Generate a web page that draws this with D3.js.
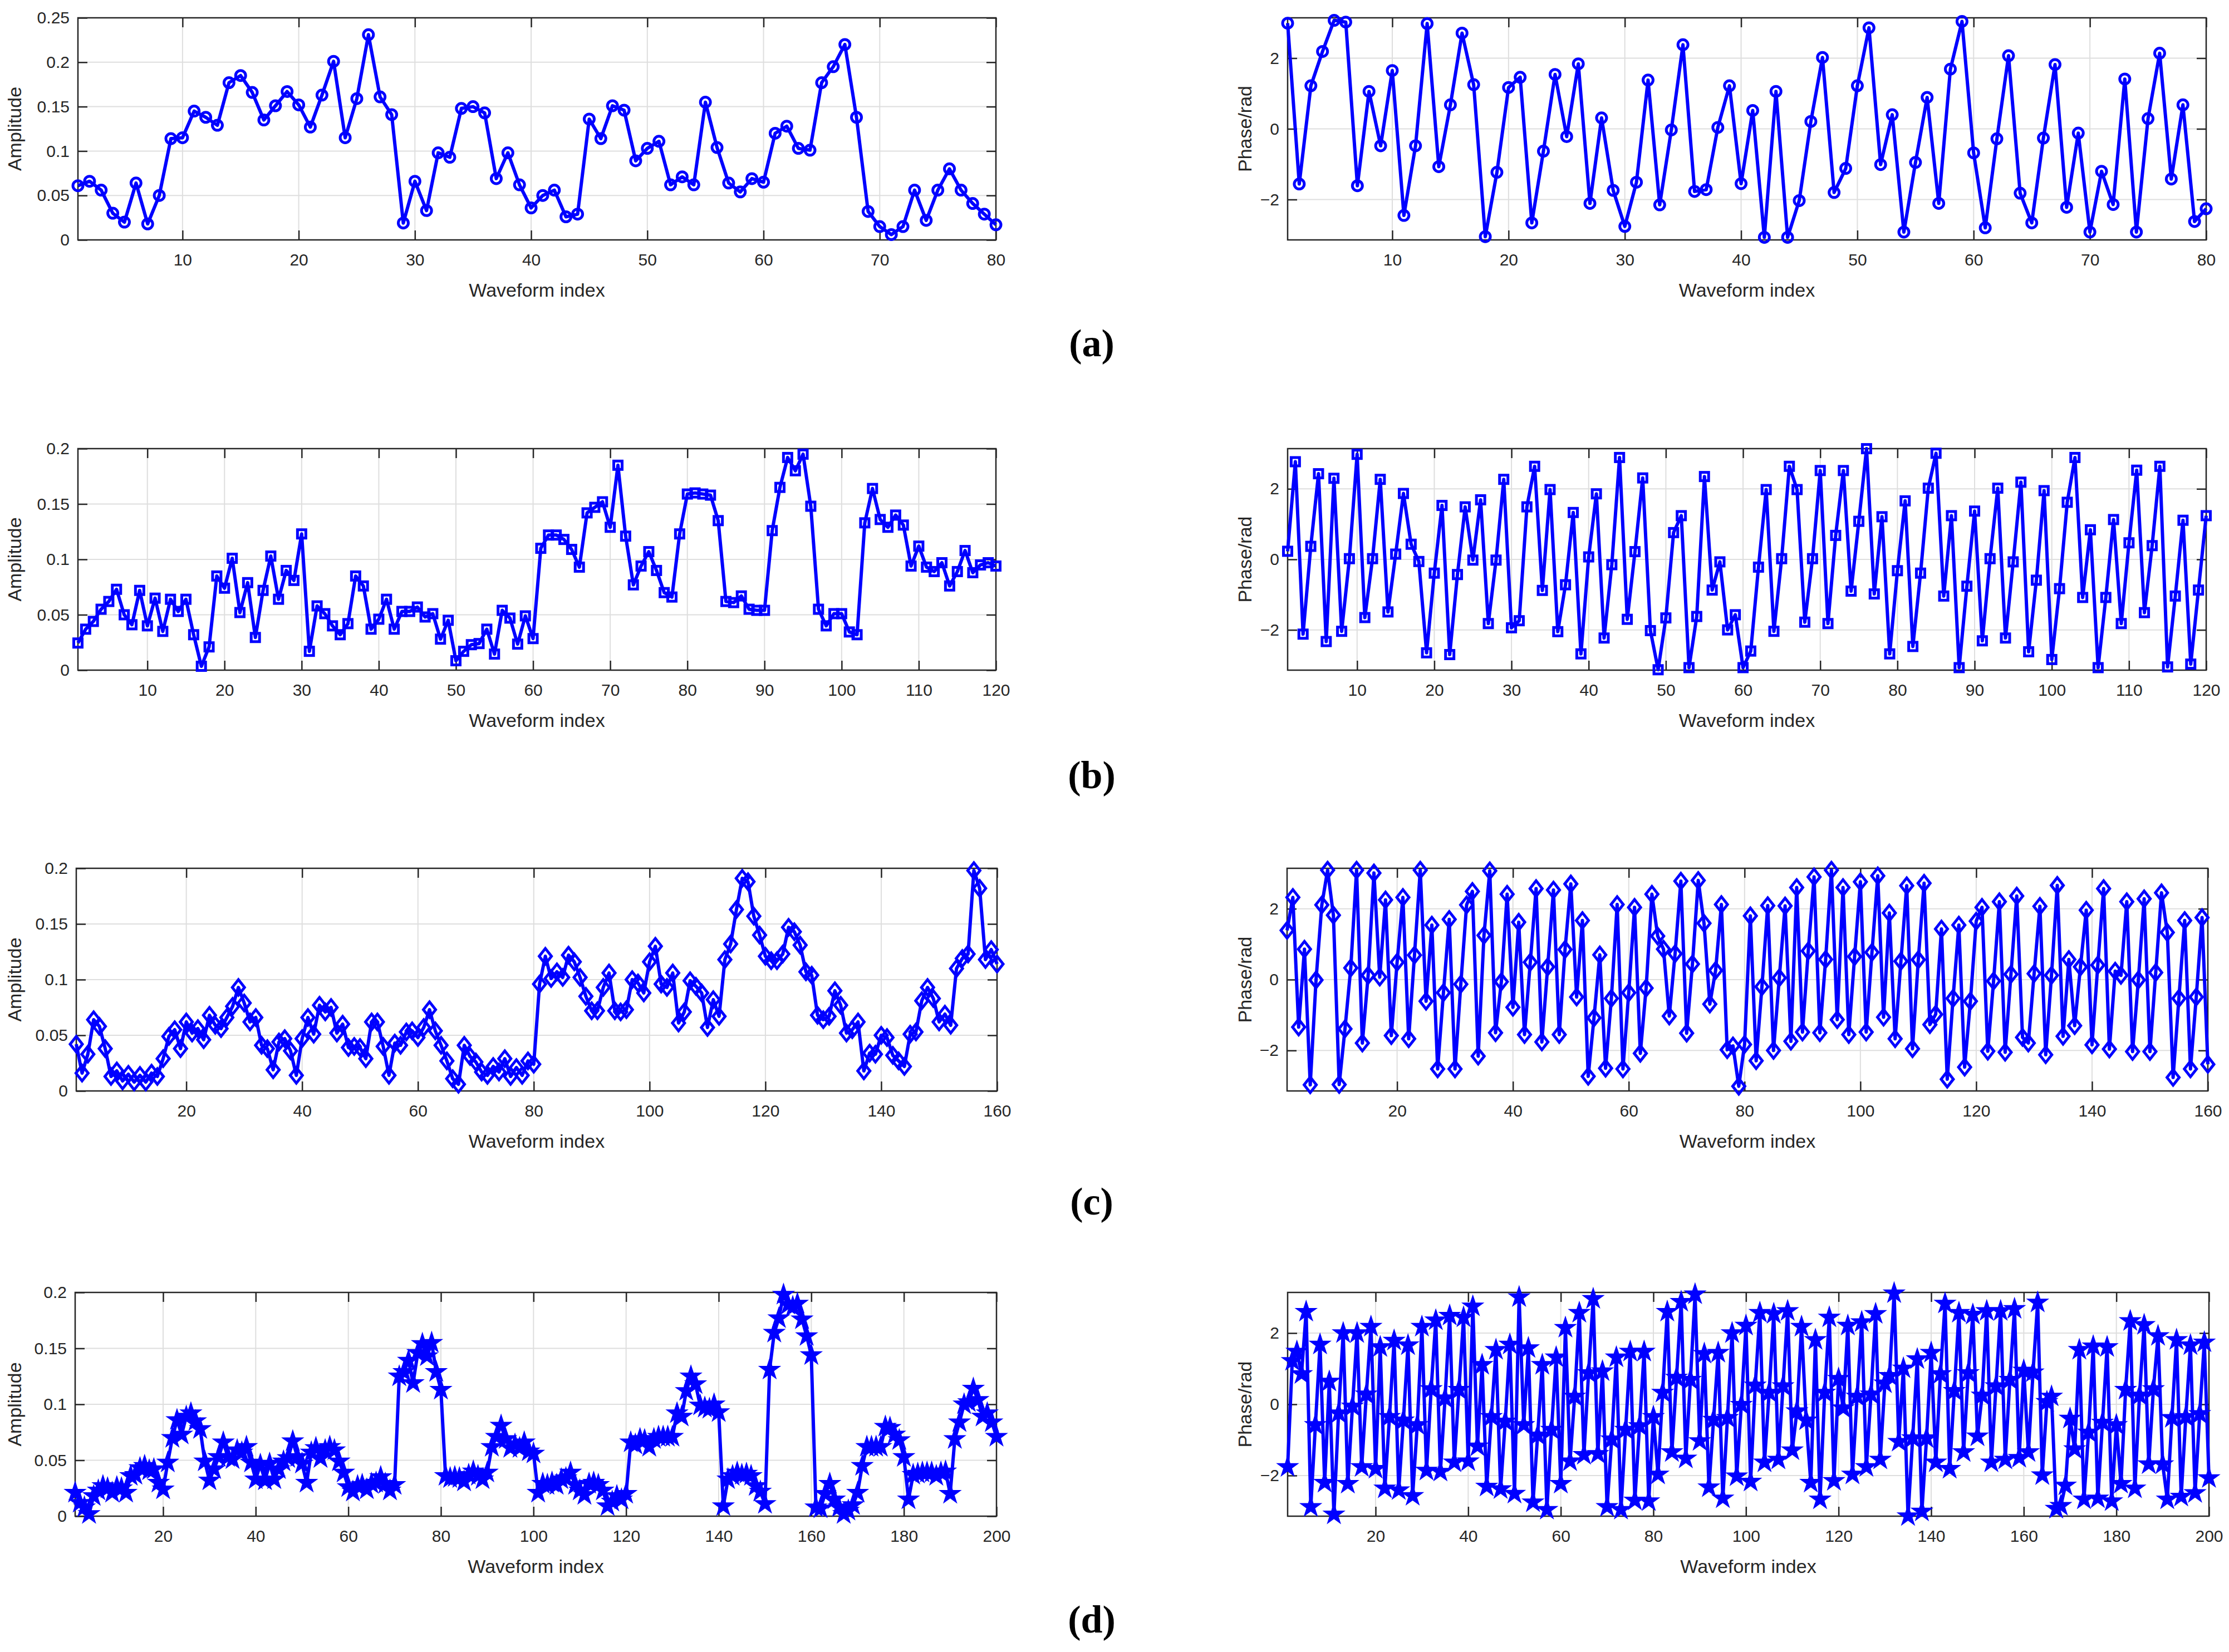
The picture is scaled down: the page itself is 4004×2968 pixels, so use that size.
<!DOCTYPE html>
<html>
<head>
<meta charset="utf-8">
<script src="https://cdn.jsdelivr.net/npm/d3@7"></script>
<style>
  body { margin: 0; background: #fff; }
  svg text { font-family: "Liberation Sans", Arial, sans-serif; fill: #262626; }
  svg text.panel-label { font-family: "Liberation Serif", "DejaVu Serif", serif; font-weight: bold; fill: #000; }
</style>
</head>
<body>
<svg id="fig" width="4004" height="2968"></svg>
<script>
// ---- data ----
const ampA = [0.061,0.066,0.056,0.030,0.020,0.064,0.018,0.050,0.114,0.115,
  0.145,0.138,0.129,0.177,0.185,0.166,0.135,0.151,0.167,0.152,
  0.127,0.163,0.201,0.115,0.159,0.231,0.161,0.141,0.019,0.066,
  0.033,0.098,0.093,0.148,0.150,0.143,0.069,0.098,0.062,0.036,
  0.050,0.056,0.026,0.029,0.136,0.114,0.151,0.146,0.089,0.103,
  0.111,0.062,0.071,0.062,0.155,0.104,0.064,0.054,0.069,0.065,
  0.120,0.128,0.103,0.101,0.177,0.195,0.220,0.138,0.032,0.015,
  0.006,0.015,0.056,0.022,0.056,0.080,0.056,0.041,0.029,0.017];

const phaseA = [2.99,-1.56,1.22,2.19,3.07,3.02,-1.61,1.06,-0.48,1.65,
  -2.45,-0.48,2.98,-1.07,0.68,2.71,1.25,-3.05,-1.23,1.17,
  1.46,-2.66,-0.63,1.54,-0.22,1.84,-2.11,0.31,-1.74,-2.76,
  -1.51,1.38,-2.15,-0.03,2.38,-1.77,-1.72,0.04,1.22,-1.55,
  0.52,-3.07,1.06,-3.07,-2.03,0.21,2.02,-1.80,-1.12,1.22,
  2.86,-1.01,0.40,-2.92,-0.95,0.89,-2.11,1.69,3.04,-0.68,
  -2.80,-0.28,2.07,-1.82,-2.66,-0.26,1.82,-2.22,-0.12,-2.92,
  -1.20,-2.14,1.41,-2.92,0.29,2.14,-1.42,0.68,-2.62,-2.26];

const ampB = [0.0245,0.037,0.044,0.055,0.062,0.073,0.050,0.041,0.072,0.040,
  0.065,0.035,0.064,0.053,0.064,0.032,0.0035,0.021,0.085,0.074,
  0.101,0.052,0.079,0.0295,0.072,0.103,0.064,0.090,0.081,0.123,
  0.017,0.058,0.051,0.040,0.032,0.042,0.085,0.076,0.037,0.046,
  0.064,0.037,0.053,0.053,0.057,0.048,0.051,0.028,0.045,0.0085,
  0.017,0.023,0.024,0.037,0.0145,0.054,0.047,0.0235,0.049,0.0285,
  0.110,0.122,0.122,0.118,0.109,0.093,0.142,0.147,0.152,0.129,
  0.185,0.121,0.077,0.094,0.107,0.090,0.070,0.066,0.123,0.159,
  0.160,0.159,0.158,0.135,0.062,0.061,0.067,0.055,0.054,0.054,
  0.126,0.165,0.192,0.180,0.195,0.148,0.055,0.040,0.051,0.051,
  0.0345,0.032,0.133,0.164,0.136,0.129,0.140,0.131,0.094,0.112,
  0.093,0.089,0.097,0.076,0.089,0.108,0.088,0.095,0.097,0.094];

const phaseB = [0.23,2.77,-2.12,0.37,2.43,-2.33,2.30,-2.04,0.02,2.98,
  -1.65,0.02,2.27,-1.49,0.15,1.87,0.43,-0.06,-2.65,-0.39,
  1.53,-2.70,-0.43,1.49,-0.02,1.69,-1.82,-0.02,2.27,-1.94,
  -1.74,1.49,2.64,-0.88,1.98,-2.05,-0.72,1.33,-2.68,0.07,
  1.86,-2.23,-0.15,2.89,-1.70,0.22,2.31,-2.02,-3.13,-1.66,
  0.76,1.24,-3.07,-1.62,2.35,-0.87,-0.07,-2.00,-1.57,-3.07,
  -2.60,-0.22,1.98,-2.04,0.02,2.64,1.98,-1.78,0.02,2.52,
  -1.82,0.68,2.52,-0.90,1.08,3.14,-0.98,1.21,-2.68,-0.32,
  1.66,-2.47,-0.39,2.02,3.01,-1.04,1.24,-3.07,-0.76,1.37,
  -2.31,0.02,2.02,-2.23,-0.07,2.19,-2.62,-0.59,1.95,-2.84,
  -0.83,1.62,2.89,-1.08,0.84,-3.07,-1.08,1.13,-1.82,0.47,
  2.53,-1.51,0.39,2.64,-3.05,-1.04,1.11,-2.97,-0.87,1.24];

const ampC = [0.042,0.016,0.033,0.064,0.058,0.038,0.013,0.018,0.009,0.015,
  0.008,0.014,0.008,0.016,0.013,0.029,0.049,0.055,0.038,0.062,
  0.052,0.056,0.046,0.068,0.059,0.056,0.066,0.076,0.093,0.079,
  0.062,0.066,0.041,0.038,0.019,0.044,0.047,0.036,0.014,0.047,
  0.066,0.051,0.077,0.071,0.075,0.052,0.060,0.039,0.040,0.039,
  0.029,0.062,0.062,0.040,0.014,0.043,0.041,0.053,0.054,0.048,
  0.057,0.073,0.054,0.041,0.027,0.011,0.006,0.041,0.031,0.026,
  0.017,0.014,0.022,0.017,0.029,0.013,0.021,0.014,0.027,0.024,
  0.096,0.121,0.101,0.107,0.102,0.122,0.116,0.102,0.085,0.072,
  0.072,0.093,0.106,0.072,0.071,0.073,0.100,0.097,0.088,0.116,
  0.130,0.096,0.093,0.106,0.061,0.071,0.099,0.094,0.088,0.057,
  0.082,0.067,0.118,0.132,0.163,0.191,0.188,0.157,0.140,0.121,
  0.117,0.117,0.123,0.147,0.143,0.131,0.107,0.104,0.068,0.064,
  0.067,0.090,0.077,0.052,0.055,0.062,0.018,0.034,0.033,0.050,
  0.048,0.032,0.027,0.022,0.051,0.053,0.081,0.093,0.083,0.062,
  0.069,0.059,0.110,0.119,0.123,0.198,0.182,0.118,0.127,0.114];

const phaseC = [1.39,2.32,-1.34,0.86,-2.97,-0.01,2.11,3.09,1.82,-2.96,
  -1.39,0.33,3.09,-1.79,0.12,3.01,0.07,2.25,-1.58,0.49,
  2.32,-1.67,0.69,3.09,-0.61,1.54,-2.52,-0.37,1.70,-2.52,
  -0.13,2.11,2.49,-2.16,1.25,3.07,-1.50,-0.06,2.41,-0.78,
  1.62,-1.55,0.49,2.57,-1.76,0.36,2.53,-1.55,0.85,2.70,
  -0.49,1.67,-2.73,-1.08,0.70,-2.50,-0.53,2.12,-2.52,-0.37,
  2.04,-2.08,-0.24,2.41,1.23,0.86,-1.03,0.73,2.78,-1.51,
  0.44,2.80,1.59,-0.69,0.26,2.12,-1.98,-1.87,-3.01,-1.83,
  1.80,-2.29,-0.20,2.09,-2.00,0.05,2.08,-1.74,2.60,-1.48,
  0.81,2.90,-1.50,0.57,3.09,-1.13,2.60,-1.55,0.65,2.76,
  -1.48,0.77,2.93,-1.06,1.88,-1.67,0.52,2.65,-1.95,0.56,
  2.72,-1.27,-0.98,1.43,-2.81,-0.53,1.54,-2.47,-0.61,1.65,
  2.04,-2.02,-0.04,2.20,-2.05,0.15,2.36,-1.63,-1.79,0.17,
  2.07,-2.12,0.12,2.66,-1.60,0.57,-1.30,0.36,1.96,-1.84,
  0.41,2.57,-1.96,0.24,0.12,2.20,-2.03,-0.01,2.28,-2.03,
  0.20,2.45,1.33,-2.76,-0.53,1.67,-2.52,-0.49,1.75,-2.39];

const ampD = [0.021,0.012,0.008,0.002,0.018,0.023,0.027,0.025,0.021,0.026,
  0.025,0.021,0.036,0.037,0.043,0.045,0.041,0.042,0.030,0.024,
  0.048,0.070,0.086,0.073,0.089,0.092,0.085,0.078,0.049,0.032,
  0.042,0.053,0.066,0.053,0.051,0.059,0.057,0.062,0.048,0.033,
  0.046,0.032,0.047,0.033,0.042,0.049,0.052,0.067,0.053,0.047,
  0.030,0.057,0.061,0.052,0.059,0.062,0.059,0.049,0.039,0.026,
  0.022,0.027,0.028,0.024,0.029,0.030,0.035,0.029,0.023,0.028,
  0.125,0.129,0.139,0.119,0.146,0.154,0.143,0.155,0.129,0.113,
  0.036,0.034,0.035,0.034,0.031,0.037,0.040,0.036,0.033,0.039,
  0.062,0.071,0.081,0.069,0.061,0.064,0.061,0.066,0.058,0.056,
  0.021,0.029,0.028,0.030,0.028,0.033,0.034,0.039,0.028,0.023,
  0.019,0.029,0.030,0.028,0.023,0.009,0.013,0.018,0.015,0.020,
  0.066,0.064,0.069,0.068,0.062,0.069,0.071,0.071,0.071,0.071,
  0.092,0.089,0.112,0.125,0.118,0.099,0.097,0.096,0.100,0.093,
  0.009,0.033,0.036,0.039,0.037,0.038,0.036,0.027,0.022,0.011,
  0.131,0.164,0.177,0.198,0.189,0.187,0.190,0.176,0.161,0.144,
  0.008,0.007,0.020,0.029,0.015,0.008,0.002,0.005,0.010,0.021,
  0.045,0.062,0.062,0.062,0.062,0.080,0.079,0.073,0.068,0.053,
  0.015,0.037,0.038,0.039,0.039,0.039,0.036,0.039,0.040,0.020,
  0.069,0.084,0.100,0.102,0.114,0.104,0.089,0.092,0.084,0.071];

const phaseD = [-1.76,1.22,1.48,0.85,2.60,-2.88,-0.58,1.68,-2.20,0.64,
  -3.09,-0.25,2.00,-2.23,-0.06,2.00,-1.76,0.28,2.18,-1.81,
  1.61,-2.36,-0.35,1.79,-2.41,-0.45,1.66,-2.57,-0.58,2.18,
  -1.86,0.43,2.36,-1.89,0.17,2.49,-1.63,0.41,2.44,-1.60,
  2.75,-1.18,1.11,-2.31,-0.35,1.53,-2.38,-0.48,1.68,-2.51,
  3.01,-0.58,1.58,-2.75,-0.87,1.11,-2.96,-0.71,1.32,-2.23,
  2.15,-1.60,0.22,2.57,-1.42,0.88,2.96,-1.39,0.93,-2.88,
  -0.98,1.32,-2.96,-0.71,1.48,-2.70,-0.61,1.48,-2.72,-0.35,
  -1.97,0.33,2.60,-1.34,0.75,2.88,-1.52,0.69,3.09,-1.03,
  1.42,-2.33,-0.43,1.45,-2.64,-0.38,2.00,-2.02,-0.01,2.21,
  -2.17,0.53,2.57,-1.63,0.33,2.54,-1.55,0.51,2.62,-1.29,
  -0.19,2.18,-0.45,-2.20,1.81,-2.67,0.33,2.44,-2.15,0.72,
  -0.11,2.21,-1.97,0.22,2.31,-1.76,0.28,2.54,-1.55,0.59,
  0.80,3.12,-1.05,1.01,-3.14,-0.95,1.27,-3.01,-0.95,1.45,
  -1.63,0.85,2.83,-1.81,0.38,2.57,-1.34,0.88,2.52,-0.90,
  0.25,2.62,-1.63,0.51,2.62,-1.55,0.69,2.68,-1.50,0.95,
  -1.34,0.90,2.86,-1.99,0.07,0.22,-2.93,-2.85,-2.28,-0.40,
  -1.26,1.53,-2.67,-0.79,1.63,-2.64,-0.51,1.61,-2.72,-0.58,
  -2.23,0.41,2.34,-2.36,0.25,2.23,-1.68,0.43,1.92,-1.68,
  -2.67,-0.38,1.81,-2.59,-0.35,1.66,-2.49,-0.27,1.74,-2.07];

// tick values / labels
const ampTicks25 = [0, 0.05, 0.1, 0.15, 0.2, 0.25];
const ampTicks20 = [0, 0.05, 0.1, 0.15, 0.2];
const phaseTicks = [-2, 0, 2];
const xTicksA = [10, 20, 30, 40, 50, 60, 70, 80];
const xTicksB = [10, 20, 30, 40, 50, 60, 70, 80, 90, 100, 110, 120];
const xTicksC = [20, 40, 60, 80, 100, 120, 140, 160];
const xTicksD = [20, 40, 60, 80, 100, 120, 140, 160, 180, 200];
const rowLabels = ['(a)', '(b)', '(c)', '(d)'];
const xTitle = 'Waveform index';
const ampTitle = 'Amplitude';
const phaseTitle = 'Phase/rad';

// ---- layout ----
const rowTop = [32, 806, 1560, 2322];
const rowBottom = [431, 1204, 1960, 2724];
const leftX = [[140, 1789], [140, 1789], [137, 1791], [135, 1790]];
const rightX = [[2313, 3963], [2313, 3963], [2312, 3966], [2313, 3968]];
const rowLabelY = [618, 1394, 2160, 2911];

const BLUE = '#0000ff';
const AXIS = '#262626';
const GRID = '#dedede';
const TICK = 17;

const rows = [
  { amp: ampA, phase: phaseA, ampTicks: ampTicks25, ampMax: 0.25, xt: xTicksA, marker: 'circle' },
  { amp: ampB, phase: phaseB, ampTicks: ampTicks20, ampMax: 0.2, xt: xTicksB, marker: 'square' },
  { amp: ampC, phase: phaseC, ampTicks: ampTicks20, ampMax: 0.2, xt: xTicksC, marker: 'diamond' },
  { amp: ampD, phase: phaseD, ampTicks: ampTicks20, ampMax: 0.2, xt: xTicksD, marker: 'star' }
];

const svg = d3.select('#fig');
svg.append('rect').attr('width', 4004).attr('height', 2968).attr('fill', '#fff');

function starPath(R) {
  const r = R * 0.382;
  const pts = d3.range(10).map(k => {
    const a = -Math.PI / 2 + k * Math.PI / 5;
    const rr = k % 2 === 0 ? R : r;
    return [rr * Math.cos(a), rr * Math.sin(a)];
  });
  return 'M' + pts.map(p => p.join(',')).join('L') + 'Z';
}

function drawMarkers(g, data, x, y, kind) {
  const pts = g.append('g').selectAll('g')
    .data(data)
    .enter()
    .append('g')
    .attr('transform', (d, i) => `translate(${x(i + 1)},${y(d)})`);
  if (kind === 'circle') {
    pts.append('circle').attr('r', 9).attr('fill', 'none')
      .attr('stroke', BLUE).attr('stroke-width', 5);
  } else if (kind === 'square') {
    pts.append('rect').attr('x', -7.5).attr('y', -7.5).attr('width', 15).attr('height', 15)
      .attr('fill', 'none').attr('stroke', BLUE).attr('stroke-width', 5);
  } else if (kind === 'diamond') {
    pts.append('path').attr('d', 'M0,-14L11,0L0,14L-11,0Z')
      .attr('fill', 'none').attr('stroke', BLUE).attr('stroke-width', 5);
  } else {
    pts.append('path').attr('d', starPath(17))
      .attr('fill', BLUE).attr('stroke', BLUE).attr('stroke-width', 3);
  }
}

function drawPanel(row, data, xr, yDomain, yTicks, yTitle, yTitleX) {
  const r = rows[row];
  const top = rowTop[row], bottom = rowBottom[row];
  const n = data.length;
  const x = d3.scaleLinear().domain([1, n]).range(xr);
  const y = d3.scaleLinear().domain(yDomain).range([bottom, top]);
  const g = svg.append('g');

  // grid
  g.append('g').selectAll('line').data(r.xt).enter().append('line')
    .attr('x1', d => x(d)).attr('x2', d => x(d))
    .attr('y1', top).attr('y2', bottom)
    .attr('stroke', GRID).attr('stroke-width', 2);
  g.append('g').selectAll('line').data(yTicks).enter().append('line')
    .attr('x1', xr[0]).attr('x2', xr[1])
    .attr('y1', d => y(d)).attr('y2', d => y(d))
    .attr('stroke', GRID).attr('stroke-width', 2);

  // axes with inward ticks
  const fmt = d3.format('~g');
  const bx = g.append('g').attr('transform', `translate(0,${bottom})`)
    .call(d3.axisBottom(x).tickValues(r.xt).tickSize(-TICK).tickPadding(25).tickFormat(fmt));
  const tx = g.append('g').attr('transform', `translate(0,${top})`)
    .call(d3.axisTop(x).tickValues(r.xt).tickSize(-TICK).tickFormat(''));
  const ly = g.append('g').attr('transform', `translate(${xr[0]},0)`)
    .call(d3.axisLeft(y).tickValues(yTicks).tickSize(-TICK).tickPadding(15).tickFormat(fmt));
  const ry = g.append('g').attr('transform', `translate(${xr[1]},0)`)
    .call(d3.axisRight(y).tickValues(yTicks).tickSize(-TICK).tickFormat(''));
  [bx, tx, ly, ry].forEach(a => {
    a.select('.domain').remove();
    a.selectAll('line').attr('stroke', AXIS).attr('stroke-width', 2.5);
    a.selectAll('text').attr('font-size', 30).attr('fill', AXIS)
      .attr('font-family', '"Liberation Sans", Arial, sans-serif');
  });
  g.append('rect').attr('x', xr[0]).attr('y', top)
    .attr('width', xr[1] - xr[0]).attr('height', bottom - top)
    .attr('fill', 'none').attr('stroke', AXIS).attr('stroke-width', 2.5);

  // series
  const line = d3.line().x((d, i) => x(i + 1)).y(d => y(d));
  g.append('path').datum(data).attr('d', line)
    .attr('fill', 'none').attr('stroke', BLUE).attr('stroke-width', 6)
    .attr('stroke-linejoin', 'round');
  drawMarkers(g, data, x, y, r.marker);

  // titles
  g.append('text').attr('x', (xr[0] + xr[1]) / 2).attr('y', bottom + 102)
    .attr('text-anchor', 'middle').attr('font-size', 34).text(xTitle);
  g.append('text')
    .attr('transform', `translate(${yTitleX},${(top + bottom) / 2}) rotate(-90)`)
    .attr('text-anchor', 'middle').attr('font-size', 34).text(yTitle);
}

rows.forEach((r, i) => {
  drawPanel(i, r.amp, leftX[i], [0, r.ampMax], r.ampTicks, ampTitle, 38);
  drawPanel(i, r.phase, rightX[i], [-Math.PI, Math.PI], phaseTicks, phaseTitle, 2248);
  svg.append('text').attr('class', 'panel-label')
    .attr('x', 1961).attr('y', rowLabelY[i] + 22)
    .attr('text-anchor', 'middle')
    .attr('font-size', 70)
    .text(rowLabels[i]);
});
</script>
</body>
</html>
